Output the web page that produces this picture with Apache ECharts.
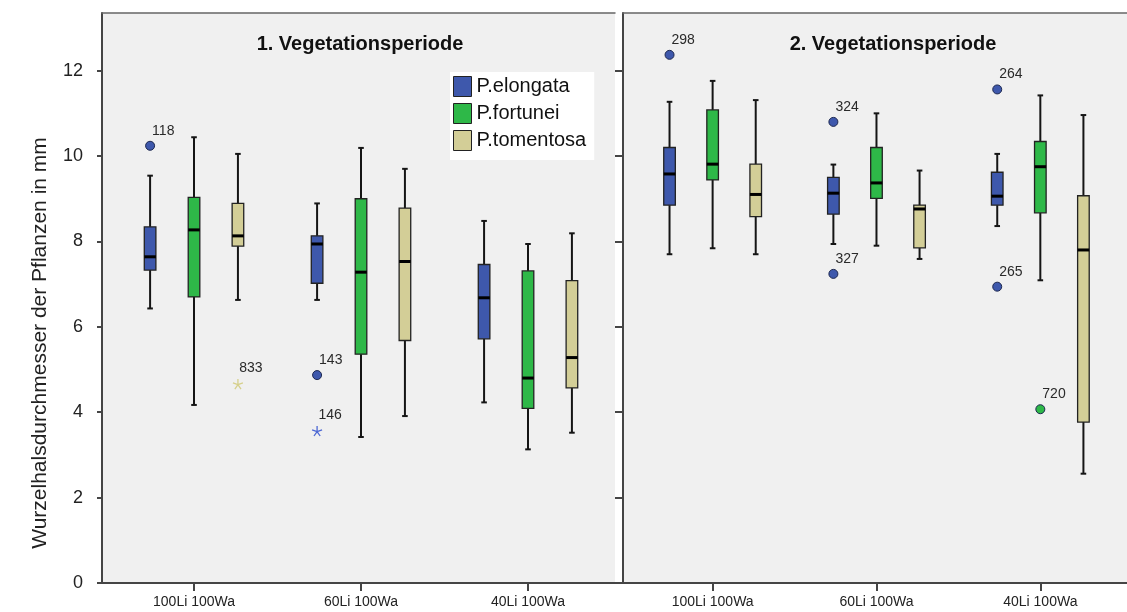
<!DOCTYPE html>
<html>
<head>
<meta charset="utf-8">
<script src="https://cdn.jsdelivr.net/npm/echarts@6/dist/echarts.min.js"></script>
<style>
  html, body { margin: 0; padding: 0; background: #ffffff; }
  #chart { width: 1127px; height: 612px; }
</style>
</head>
<body>
<div id="chart"></div>
<script>
// ---- data ----
const categories = ['100Li 100Wa', '60Li 100Wa', '40Li 100Wa'];
const species = ['P.elongata', 'P.fortunei', 'P.tomentosa'];
const periods = ['1. Vegetationsperiode', '2. Vegetationsperiode'];
const yTicks = [0, 2, 4, 6, 8, 10, 12];
const yName = 'Wurzelhalsdurchmesser der Pflanzen in mm';

// [lower whisker, Q1, median, Q3, upper whisker] for each category
const p1Elongata  = [[6.43, 7.33, 7.64, 8.34, 9.54], [6.63, 7.02, 7.94, 8.13, 8.89], [4.23, 5.72, 6.68, 7.46, 8.48]];
const p1Fortunei  = [[4.17, 6.70, 8.27, 9.03, 10.44], [3.42, 5.36, 7.28, 9.00, 10.19], [3.13, 4.09, 4.80, 7.31, 7.94]];
const p1Tomentosa = [[6.63, 7.89, 8.13, 8.89, 10.05], [3.91, 5.68, 7.53, 8.78, 9.70], [3.52, 4.57, 5.28, 7.08, 8.19]];
const p2Elongata  = [[7.70, 8.85, 9.58, 10.20, 11.27], [7.94, 8.64, 9.13, 9.50, 9.80], [8.36, 8.85, 9.06, 9.62, 10.05]];
const p2Fortunei  = [[7.84, 9.44, 9.81, 11.08, 11.76], [7.90, 9.01, 9.37, 10.20, 11.00], [7.09, 8.67, 9.75, 10.34, 11.42]];
const p2Tomentosa = [[7.70, 8.58, 9.10, 9.81, 11.31], [7.59, 7.85, 8.76, 8.85, 9.66], [2.56, 3.77, 7.80, 9.07, 10.96]];

// outliers: [category index, species index, value, case number, marker]
const p1Outliers = [
  [0, 0, 10.24, '118', 'circle'],
  [0, 2, 4.66, '833', 'star'],
  [1, 0, 4.87, '143', 'circle'],
  [1, 0, 3.56, '146', 'star']
];
const p2Outliers = [
  [0, 0, 12.37, '298', 'circle'],
  [1, 0, 10.80, '324', 'circle'],
  [1, 0, 7.24, '327', 'circle'],
  [2, 0, 11.56, '264', 'circle'],
  [2, 0, 6.94, '265', 'circle'],
  [2, 1, 4.07, '720', 'circle']
];

// ---- styling ----
const FONT = '"Liberation Sans", Arial, sans-serif';
const colors = ['#3E58AC', '#2EB848', '#D3CE97'];
const starColors = ['#4d68d4', '#2EB848', '#d6d08c'];
const groupOffsets = [-0.263, 0, 0.263];   // horizontal shift of each species inside a category
const AXIS_COLOR = '#454545';
const STAR_PATH = 'path://M0,-5L0,0M0,0L4.76,-1.55M0,0L2.94,4.05M0,0L-2.94,4.05M0,0L-4.76,-1.55';

const panels = [
  { boxes: [p1Elongata, p1Fortunei, p1Tomentosa], outliers: p1Outliers,
    left: 102, width: 513, xMin: -0.051, xMax: 3.021, tickLen: 5, showLabels: true },
  { boxes: [p2Elongata, p2Fortunei, p2Tomentosa], outliers: p2Outliers,
    left: 623, width: 506, xMin: -0.047, xMax: 3.029, tickLen: 8, showLabels: false }
];
const GRID_TOP = 13, GRID_HEIGHT = 570, Y_MAX = 13.35;
const catCenters = categories.map((c, i) => i + 0.5);

function renderBox(params, api) {
  const x = api.value(0);
  const lo = api.coord([x, api.value(1)]);
  const q1 = api.coord([x, api.value(2)]);
  const md = api.coord([x, api.value(3)]);
  const q3 = api.coord([x, api.value(4)]);
  const hi = api.coord([x, api.value(5)]);
  const cx = lo[0];
  const hw = 5.8, cap = 2.8;
  const stroke = { stroke: '#151515', lineWidth: 2 };
  return {
    type: 'group',
    children: [
      { type: 'line', shape: { x1: cx, y1: hi[1], x2: cx, y2: q3[1] }, style: stroke },
      { type: 'line', shape: { x1: cx, y1: q1[1], x2: cx, y2: lo[1] }, style: stroke },
      { type: 'line', shape: { x1: cx - cap, y1: hi[1], x2: cx + cap, y2: hi[1] }, style: stroke },
      { type: 'line', shape: { x1: cx - cap, y1: lo[1], x2: cx + cap, y2: lo[1] }, style: stroke },
      { type: 'rect', shape: { x: cx - hw, y: q3[1], width: hw * 2, height: q1[1] - q3[1] },
        style: { fill: api.visual('color'), stroke: '#222', lineWidth: 1.3 } },
      { type: 'line', shape: { x1: cx - hw, y1: md[1], x2: cx + hw, y2: md[1] },
        style: { stroke: '#000', lineWidth: 3 } }
    ]
  };
}

const grids = [], xAxes = [], yAxes = [], series = [];
panels.forEach((p, g) => {
  grids.push({ left: p.left, top: GRID_TOP, width: p.width, height: GRID_HEIGHT,
    show: true, backgroundColor: '#f0f0f0', borderWidth: 0 });
  // bottom axis with category ticks/labels
  xAxes.push({
    gridIndex: g, type: 'value', min: p.xMin, max: p.xMax, position: 'bottom',
    axisLine: { show: true, onZero: false, lineStyle: { color: AXIS_COLOR, width: 2 } },
    axisTick: { show: true, customValues: catCenters, length: 8, lineStyle: { color: AXIS_COLOR, width: 2 } },
    axisLabel: { show: true, customValues: catCenters, margin: 12,
      formatter: v => categories[Math.floor(v)], fontSize: 14, color: '#222', fontFamily: FONT },
    splitLine: { show: false }
  });
  // top frame line
  xAxes.push({
    gridIndex: g, type: 'value', min: p.xMin, max: p.xMax, position: 'top',
    axisLine: { show: true, onZero: false, lineStyle: { color: '#666', width: 1.5 } },
    axisTick: { show: false }, axisLabel: { show: false }, splitLine: { show: false }
  });
  yAxes.push({
    gridIndex: g, type: 'value', min: 0, max: Y_MAX, position: 'left',
    axisLine: { show: true, onZero: false, lineStyle: { color: AXIS_COLOR, width: 2 } },
    axisTick: { show: true, customValues: yTicks, length: p.tickLen, lineStyle: { color: AXIS_COLOR, width: 2 } },
    axisLabel: { show: p.showLabels, customValues: yTicks, margin: 19, fontSize: 18, color: '#222', fontFamily: FONT },
    splitLine: { show: false }
  });

  p.boxes.forEach((rows, s) => {
    series.push({
      type: 'custom', name: species[s], xAxisIndex: g * 2, yAxisIndex: g,
      itemStyle: { color: colors[s] },
      renderItem: renderBox,
      encode: { x: 0, y: [1, 2, 3, 4, 5] },
      data: rows.map((r, ci) => [ci + 0.5 + groupOffsets[s]].concat(r)),
      silent: true
    });
  });

  series.push({
    type: 'scatter', name: 'Ausreißer ' + (g + 1), xAxisIndex: g * 2, yAxisIndex: g, silent: true,
    data: p.outliers.map(o => {
      const isStar = o[4] === 'star';
      return {
        value: [o[0] + 0.5 + groupOffsets[o[1]], o[2]],
        symbol: isStar ? STAR_PATH : 'circle',
        symbolSize: isStar ? 10 : 9,
        itemStyle: isStar
          ? { opacity: 1, color: 'rgba(0,0,0,0)', borderColor: starColors[o[1]], borderWidth: 1.3 }
          : { opacity: 1, color: colors[o[1]], borderColor: '#1d2850', borderWidth: 1 },
        label: { show: true, formatter: o[3], position: [7, -10], align: 'left', verticalAlign: 'middle',
          fontSize: 14, color: '#2a2a2a', fontFamily: FONT }
      };
    })
  });
});

const option = {
  animation: false,
  backgroundColor: '#ffffff',
  title: [
    { text: periods[0], left: 355, top: 29, textAlign: 'center',
      textStyle: { fontSize: 20, fontWeight: 'bold', color: '#111', fontFamily: FONT } },
    { text: periods[1], left: 888, top: 29, textAlign: 'center',
      textStyle: { fontSize: 20, fontWeight: 'bold', color: '#111', fontFamily: FONT } }
  ],
  legend: {
    data: species, orient: 'vertical', left: 450, top: 72,
    backgroundColor: '#ffffff', padding: [4, 8, 9, 3],
    itemWidth: 18, itemHeight: 20, itemGap: 6, icon: 'rect', selectedMode: false,
    itemStyle: { borderColor: '#222', borderWidth: 1 },
    textStyle: { fontSize: 20, color: '#111', fontFamily: FONT }
  },
  grid: grids,
  xAxis: xAxes,
  yAxis: yAxes,
  series: series,
  graphic: [
    { type: 'text', x: 40, y: 343, rotation: Math.PI / 2,
      style: { text: yName, align: 'center', verticalAlign: 'middle', font: '21px ' + FONT, fill: '#222' } },
    { type: 'line', shape: { x1: 451, y1: 72, x2: 451, y2: 157 }, style: { stroke: '#999', lineWidth: 1.5 } }
  ]
};

const chart = echarts.init(document.getElementById('chart'), null, { renderer: 'canvas' });
chart.setOption(option);
</script>
</body>
</html>
